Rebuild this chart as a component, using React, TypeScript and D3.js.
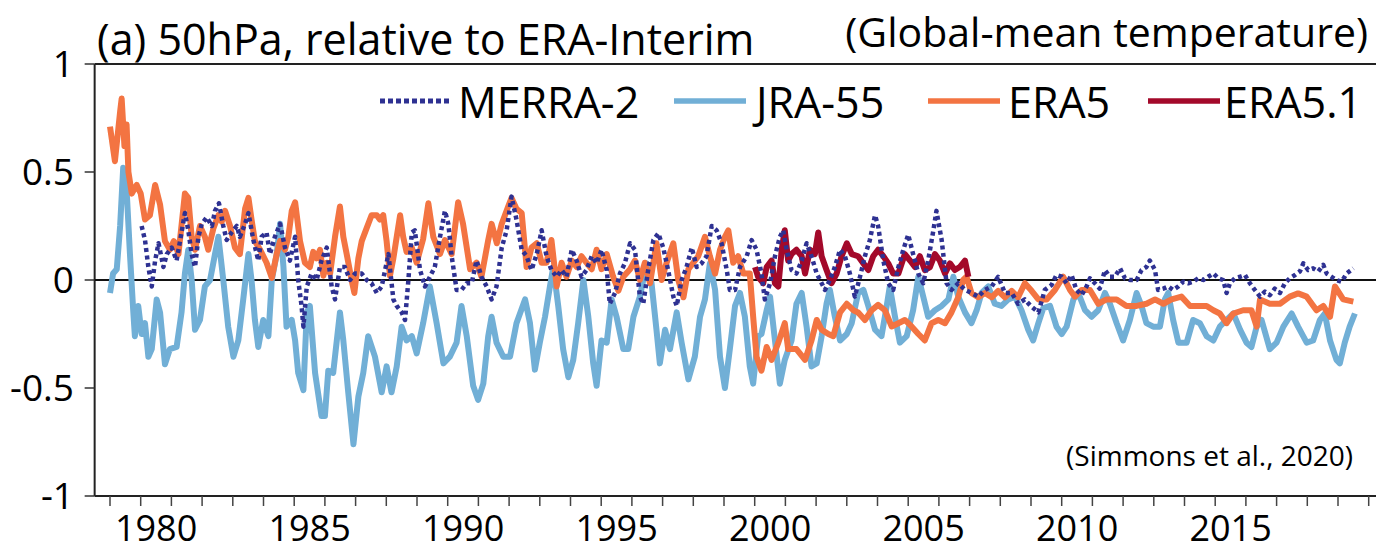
import React from 'react';
import * as d3 from 'd3';

type Pt = [number, number];

// values, [year, K]
const merra2: Pt[] = [
  [1980.03, 0.25], [1980.14, 0.185], [1980.25, 0.06], [1980.36, -0.03], [1980.47, 0.09], [1980.58, 0.17],
  [1980.74, 0.06], [1980.85, 0.12], [1981.01, 0.15], [1981.17, 0.09], [1981.33, 0.22], [1981.44, 0.31],
  [1981.55, 0.23], [1981.66, 0.12], [1981.77, 0.06], [1981.88, 0.2], [1981.99, 0.26], [1982.15, 0.29],
  [1982.32, 0.25], [1982.42, 0.32], [1982.55, 0.355], [1982.69, 0.25], [1982.8, 0.185], [1982.96, 0.22],
  [1983.13, 0.25], [1983.23, 0.2], [1983.4, 0.26], [1983.51, 0.31], [1983.67, 0.185], [1983.83, 0.09],
  [1983.94, 0.2], [1984.1, 0.22], [1984.21, 0.12], [1984.37, 0.2], [1984.54, 0.26], [1984.7, 0.15],
  [1984.86, 0.09], [1985.03, 0.2], [1985.13, 0.0], [1985.24, -0.12], [1985.3, -0.216], [1985.41, -0.03],
  [1985.57, 0.03], [1985.73, 0.0], [1985.89, 0.09], [1986.06, 0.15], [1986.22, -0.03], [1986.33, -0.09],
  [1986.49, 0.06], [1986.65, 0.06], [1986.82, 0.0], [1986.98, 0.03], [1987.2, 0.03], [1987.36, 0.0],
  [1987.52, -0.015], [1987.69, -0.06], [1987.85, -0.03], [1988.07, 0.12], [1988.23, -0.09], [1988.34, -0.12],
  [1988.5, -0.15], [1988.61, -0.185], [1988.72, 0.0], [1988.83, 0.22], [1988.93, 0.23], [1989.1, 0.046],
  [1989.26, -0.03], [1989.42, 0.015], [1989.58, 0.06], [1989.75, 0.2], [1989.91, 0.32], [1990.02, 0.26],
  [1990.13, 0.11], [1990.29, -0.046], [1990.45, -0.046], [1990.62, -0.015], [1990.78, -0.015], [1990.94, 0.09],
  [1991.1, 0.015], [1991.27, -0.03], [1991.43, -0.09], [1991.59, -0.03], [1991.76, 0.15], [1991.92, 0.23],
  [1992.08, 0.386], [1992.24, 0.28], [1992.41, 0.14], [1992.57, 0.11], [1992.73, 0.046], [1992.9, 0.12],
  [1993.06, 0.23], [1993.22, 0.11], [1993.38, 0.046], [1993.55, 0.015], [1993.71, 0.046], [1993.87, 0.015],
  [1994.04, 0.14], [1994.2, 0.09], [1994.36, 0.015], [1994.52, 0.046], [1994.69, 0.11], [1994.85, 0.077],
  [1995.01, 0.14], [1995.18, 0.046], [1995.28, -0.11], [1995.45, -0.06], [1995.61, 0.03], [1995.77, 0.077],
  [1995.94, 0.17], [1996.1, 0.14], [1996.26, -0.077], [1996.37, -0.11], [1996.53, 0.046], [1996.7, 0.185],
  [1996.86, 0.216], [1997.02, 0.15], [1997.18, 0.046], [1997.35, -0.077], [1997.46, -0.12], [1997.62, 0.0],
  [1997.78, 0.06], [1997.95, 0.15], [1998.11, 0.06], [1998.27, 0.077], [1998.43, 0.11], [1998.6, 0.25],
  [1998.76, 0.23], [1998.92, 0.17], [1999.09, 0.046], [1999.19, -0.046], [1999.36, -0.046], [1999.52, 0.06],
  [1999.74, 0.11], [1999.9, 0.185], [2000.06, 0.14], [2000.22, 0.03], [2000.33, -0.09], [2000.5, -0.015],
  [2000.66, 0.11], [2000.82, 0.2], [2000.93, 0.23], [2001.04, 0.14], [2001.2, 0.046], [2001.36, 0.03],
  [2001.53, 0.09], [2001.69, 0.17], [2001.85, 0.11], [2002.02, 0.03], [2002.18, -0.015], [2002.29, -0.046],
  [2002.45, 0.0], [2002.61, 0.06], [2002.78, 0.14], [2002.94, 0.11], [2003.1, 0.03], [2003.26, -0.077],
  [2003.43, 0.015], [2003.59, 0.11], [2003.75, 0.185], [2003.92, 0.3], [2004.02, 0.25], [2004.19, 0.09],
  [2004.35, -0.015], [2004.51, -0.046], [2004.68, 0.06], [2004.84, 0.14], [2005.0, 0.21], [2005.16, 0.12],
  [2005.33, 0.03], [2005.49, -0.015], [2005.65, 0.09], [2005.82, 0.23], [2005.92, 0.32], [2006.09, 0.185],
  [2006.25, -0.015], [2006.41, -0.046], [2006.63, -0.015], [2006.85, -0.046], [2007.06, -0.06], [2007.28, -0.077],
  [2007.5, -0.046], [2007.72, -0.03], [2007.93, 0.015], [2008.15, -0.06], [2008.37, -0.06], [2008.58, -0.11],
  [2008.8, -0.09], [2008.99, -0.12], [2009.24, -0.15], [2009.45, -0.046], [2009.67, -0.023], [2009.83, 0.023],
  [2010.0, 0.015], [2010.16, -0.015], [2010.32, 0.023], [2010.48, -0.046], [2010.65, -0.07], [2010.81, -0.03],
  [2010.92, 0.008], [2011.08, -0.015], [2011.24, -0.04], [2011.41, 0.046], [2011.57, 0.015], [2011.73, 0.015],
  [2011.9, 0.054], [2012.06, 0.008], [2012.22, 0.0], [2012.44, 0.0], [2012.6, 0.046], [2012.76, 0.06],
  [2012.87, 0.09], [2013.04, 0.046], [2013.14, -0.046], [2013.31, -0.04], [2013.47, -0.03], [2013.63, -0.046],
  [2013.8, -0.03], [2013.96, -0.008], [2014.12, -0.015], [2014.28, -0.008], [2014.45, 0.008], [2014.61, 0.0],
  [2014.77, 0.015], [2014.94, 0.03], [2015.1, 0.008], [2015.26, 0.0], [2015.37, -0.06], [2015.48, -0.015],
  [2015.64, 0.008], [2015.81, 0.015], [2015.97, 0.023], [2016.13, -0.015], [2016.29, -0.046], [2016.46, -0.077],
  [2016.62, -0.054], [2016.78, -0.07], [2016.94, -0.04], [2017.11, -0.06], [2017.27, -0.015], [2017.43, 0.008],
  [2017.6, 0.023], [2017.76, 0.04], [2017.87, 0.077], [2018.03, 0.046], [2018.19, 0.054], [2018.36, 0.04],
  [2018.52, 0.07], [2018.63, 0.03], [2018.79, 0.015], [2018.95, 0.0], [2019.12, -0.008], [2019.28, 0.03],
  [2019.5, 0.054],
];

const jra55: Pt[] = [
  [1979.0, -0.06], [1979.1, 0.03], [1979.22, 0.05], [1979.33, 0.25], [1979.43, 0.52], [1979.54, 0.42],
  [1979.65, 0.12], [1979.76, -0.15], [1979.81, -0.26], [1979.92, -0.12], [1980.03, -0.25], [1980.14, -0.2],
  [1980.25, -0.355], [1980.36, -0.32], [1980.52, -0.09], [1980.63, -0.15], [1980.79, -0.39], [1980.95, -0.32],
  [1981.17, -0.31], [1981.33, -0.15], [1981.44, 0.03], [1981.55, 0.14], [1981.66, 0.0], [1981.77, -0.23],
  [1981.93, -0.185], [1982.09, -0.03], [1982.26, 0.0], [1982.42, 0.12], [1982.53, 0.2], [1982.69, 0.0],
  [1982.85, -0.216], [1983.02, -0.355], [1983.18, -0.28], [1983.34, -0.09], [1983.51, 0.12], [1983.61, 0.0],
  [1983.72, -0.185], [1983.83, -0.31], [1983.99, -0.185], [1984.16, -0.26], [1984.27, 0.0], [1984.43, 0.12],
  [1984.54, 0.26], [1984.65, 0.06], [1984.75, -0.216], [1984.92, -0.185], [1985.03, -0.28], [1985.13, -0.43],
  [1985.3, -0.51], [1985.41, -0.15], [1985.51, -0.12], [1985.68, -0.43], [1985.89, -0.63], [1986.0, -0.63],
  [1986.11, -0.42], [1986.27, -0.43], [1986.49, -0.15], [1986.6, -0.28], [1986.76, -0.52], [1986.93, -0.76],
  [1987.09, -0.54], [1987.25, -0.43], [1987.41, -0.26], [1987.63, -0.355], [1987.85, -0.52], [1988.01, -0.4],
  [1988.17, -0.52], [1988.34, -0.4], [1988.5, -0.216], [1988.66, -0.28], [1988.83, -0.26], [1988.99, -0.34],
  [1989.2, -0.2], [1989.42, -0.03], [1989.64, -0.2], [1989.86, -0.386], [1990.07, -0.355], [1990.29, -0.29],
  [1990.45, -0.12], [1990.62, -0.26], [1990.83, -0.49], [1990.99, -0.555], [1991.16, -0.48], [1991.32, -0.26],
  [1991.43, -0.17], [1991.59, -0.29], [1991.81, -0.355], [1992.03, -0.355], [1992.24, -0.2], [1992.52, -0.09],
  [1992.68, -0.2], [1992.84, -0.415], [1993.0, -0.29], [1993.17, -0.17], [1993.33, -0.03], [1993.44, 0.06],
  [1993.6, -0.12], [1993.76, -0.32], [1993.93, -0.45], [1994.09, -0.37], [1994.25, -0.2], [1994.42, 0.0],
  [1994.58, -0.17], [1994.74, -0.386], [1994.85, -0.49], [1995.01, -0.28], [1995.18, -0.29], [1995.34, -0.09],
  [1995.5, -0.17], [1995.72, -0.32], [1995.88, -0.32], [1996.05, -0.17], [1996.26, -0.077], [1996.48, 0.077],
  [1996.64, -0.015], [1996.8, -0.23], [1996.91, -0.386], [1997.08, -0.23], [1997.24, -0.32], [1997.46, -0.15],
  [1997.62, -0.29], [1997.84, -0.46], [1998.05, -0.355], [1998.22, -0.17], [1998.38, -0.09], [1998.54, 0.077],
  [1998.71, -0.046], [1998.87, -0.355], [1999.03, -0.5], [1999.19, -0.32], [1999.36, -0.12], [1999.52, -0.06],
  [1999.68, -0.17], [1999.84, -0.4], [1999.95, -0.48], [2000.11, -0.26], [2000.22, -0.25], [2000.39, -0.14],
  [2000.5, -0.077], [2000.66, -0.28], [2000.82, -0.48], [2000.98, -0.37], [2001.2, -0.28], [2001.36, -0.11],
  [2001.53, -0.06], [2001.69, -0.216], [2001.85, -0.4], [2002.02, -0.386], [2002.18, -0.26], [2002.34, -0.11],
  [2002.45, -0.046], [2002.61, -0.17], [2002.78, -0.28], [2003.0, -0.25], [2003.16, -0.2], [2003.37, -0.06],
  [2003.54, -0.046], [2003.7, -0.12], [2003.92, -0.23], [2004.13, -0.26], [2004.3, -0.12], [2004.4, -0.03],
  [2004.57, -0.17], [2004.73, -0.29], [2004.95, -0.26], [2005.16, -0.14], [2005.33, 0.015], [2005.49, -0.077],
  [2005.65, -0.17], [2005.87, -0.14], [2006.09, -0.12], [2006.31, -0.09], [2006.47, 0.015], [2006.63, -0.077],
  [2006.85, -0.15], [2007.06, -0.2], [2007.23, -0.14], [2007.39, -0.06], [2007.61, -0.03], [2007.82, -0.11],
  [2008.04, -0.12], [2008.26, -0.09], [2008.48, -0.077], [2008.69, -0.14], [2008.91, -0.23], [2009.07, -0.28],
  [2009.24, -0.2], [2009.4, -0.13], [2009.62, -0.12], [2009.83, -0.216], [2010.0, -0.25], [2010.16, -0.216],
  [2010.38, -0.09], [2010.54, -0.06], [2010.76, -0.14], [2010.97, -0.17], [2011.19, -0.14], [2011.41, -0.06],
  [2011.57, -0.11], [2011.79, -0.2], [2012.0, -0.28], [2012.22, -0.185], [2012.44, -0.06], [2012.6, -0.12],
  [2012.76, -0.2], [2012.98, -0.216], [2013.2, -0.216], [2013.36, -0.09], [2013.47, -0.06], [2013.63, -0.185],
  [2013.8, -0.29], [2014.07, -0.29], [2014.28, -0.185], [2014.5, -0.2], [2014.72, -0.26], [2014.94, -0.28],
  [2015.15, -0.216], [2015.37, -0.185], [2015.59, -0.155], [2015.81, -0.23], [2016.02, -0.29], [2016.18, -0.31],
  [2016.35, -0.216], [2016.51, -0.185], [2016.78, -0.32], [2017.0, -0.29], [2017.22, -0.216], [2017.49, -0.155],
  [2017.7, -0.216], [2017.98, -0.29], [2018.19, -0.28], [2018.41, -0.185], [2018.57, -0.155], [2018.74, -0.28],
  [2018.95, -0.37], [2019.06, -0.386], [2019.22, -0.29], [2019.38, -0.216], [2019.55, -0.155],
];

const era5: Pt[] = [
  [1979.0, 0.71], [1979.16, 0.55], [1979.33, 0.78], [1979.38, 0.84], [1979.47, 0.62], [1979.54, 0.72],
  [1979.6, 0.5], [1979.71, 0.4], [1979.87, 0.44], [1980.0, 0.4], [1980.14, 0.28], [1980.3, 0.3],
  [1980.47, 0.44], [1980.63, 0.35], [1980.79, 0.18], [1980.95, 0.14], [1981.08, 0.18], [1981.23, 0.12],
  [1981.44, 0.4], [1981.55, 0.38], [1981.66, 0.2], [1981.77, 0.14], [1981.93, 0.25], [1982.09, 0.2],
  [1982.2, 0.14], [1982.37, 0.24], [1982.53, 0.3], [1982.64, 0.27], [1982.75, 0.32], [1982.91, 0.25],
  [1983.07, 0.15], [1983.23, 0.12], [1983.4, 0.33], [1983.51, 0.38], [1983.61, 0.28], [1983.72, 0.18],
  [1983.89, 0.14], [1984.1, 0.08], [1984.27, 0.01], [1984.43, 0.12], [1984.54, 0.18], [1984.7, 0.14],
  [1984.81, 0.2], [1984.92, 0.32], [1985.03, 0.36], [1985.19, 0.18], [1985.35, 0.08], [1985.51, 0.06],
  [1985.62, 0.13], [1985.73, 0.1], [1985.84, 0.14], [1985.95, 0.02], [1986.06, 0.08], [1986.17, 0.03],
  [1986.33, 0.2], [1986.49, 0.34], [1986.6, 0.2], [1986.71, 0.12], [1986.87, 0.0], [1986.96, -0.06],
  [1987.09, 0.1], [1987.2, 0.18], [1987.36, 0.24], [1987.52, 0.3], [1987.69, 0.3], [1987.79, 0.28],
  [1987.9, 0.3], [1988.01, 0.18], [1988.12, 0.02], [1988.23, 0.1], [1988.34, 0.2], [1988.45, 0.3],
  [1988.55, 0.2], [1988.66, 0.13], [1988.83, 0.15], [1988.99, 0.08], [1989.2, 0.19], [1989.37, 0.355],
  [1989.53, 0.2], [1989.75, 0.12], [1989.91, 0.185], [1990.13, 0.12], [1990.34, 0.36], [1990.5, 0.26],
  [1990.73, 0.05], [1990.94, 0.08], [1991.1, 0.015], [1991.32, 0.185], [1991.43, 0.26], [1991.6, 0.17],
  [1991.76, 0.26], [1991.97, 0.34], [1992.08, 0.38], [1992.24, 0.33], [1992.41, 0.31], [1992.57, 0.06],
  [1992.73, 0.15], [1992.9, 0.17], [1993.06, 0.08], [1993.22, 0.08], [1993.38, 0.185], [1993.55, -0.03],
  [1993.71, 0.08], [1993.87, 0.015], [1994.04, 0.09], [1994.2, 0.06], [1994.36, 0.11], [1994.52, 0.08],
  [1994.69, 0.05], [1994.85, 0.14], [1995.01, 0.05], [1995.18, 0.12], [1995.39, 0.015], [1995.56, -0.05],
  [1995.72, 0.015], [1995.94, 0.05], [1996.1, 0.09], [1996.26, 0.0], [1996.42, 0.08], [1996.59, -0.015],
  [1996.8, 0.17], [1996.97, 0.0], [1997.13, 0.08], [1997.35, 0.17], [1997.51, 0.0], [1997.68, -0.08],
  [1997.84, 0.05], [1998.0, 0.08], [1998.16, 0.11], [1998.38, 0.2], [1998.54, 0.11], [1998.71, 0.03],
  [1998.87, 0.14], [1999.03, 0.2], [1999.14, 0.23], [1999.3, 0.08], [1999.46, 0.11], [1999.63, 0.03],
  [1999.84, 0.03], [1999.95, -0.17], [2000.06, -0.355], [2000.22, -0.42], [2000.39, -0.31], [2000.55, -0.37],
  [2000.77, -0.29], [2000.98, -0.2], [2001.09, -0.32], [2001.36, -0.32], [2001.64, -0.37], [2001.85, -0.28],
  [2002.02, -0.185], [2002.18, -0.23], [2002.4, -0.25], [2002.56, -0.26], [2002.78, -0.15], [2003.0, -0.11],
  [2003.21, -0.14], [2003.37, -0.15], [2003.59, -0.185], [2003.81, -0.14], [2004.02, -0.115], [2004.24, -0.14],
  [2004.46, -0.215], [2004.68, -0.2], [2004.89, -0.185], [2005.11, -0.215], [2005.33, -0.25], [2005.54, -0.28],
  [2005.76, -0.2], [2005.98, -0.185], [2006.2, -0.2], [2006.41, -0.15], [2006.63, -0.08], [2006.79, 0.0],
  [2006.9, 0.015], [2007.06, -0.06], [2007.28, -0.08], [2007.5, -0.06], [2007.72, -0.08], [2007.93, -0.05],
  [2008.15, -0.08], [2008.37, -0.05], [2008.58, -0.08], [2008.8, -0.015], [2009.02, -0.05], [2009.24, -0.09],
  [2009.51, -0.09], [2009.78, -0.046], [2010.05, 0.015], [2010.27, -0.046], [2010.43, -0.077], [2010.65, -0.046],
  [2010.92, -0.046], [2011.19, -0.11], [2011.46, -0.09], [2011.79, -0.09], [2012.11, -0.12], [2012.44, -0.12],
  [2012.76, -0.11], [2013.04, -0.09], [2013.31, -0.11], [2013.58, -0.09], [2013.9, -0.077], [2014.18, -0.12],
  [2014.5, -0.12], [2014.72, -0.12], [2014.94, -0.14], [2015.15, -0.155], [2015.37, -0.2], [2015.59, -0.155],
  [2015.91, -0.14], [2016.18, -0.14], [2016.35, -0.216], [2016.46, -0.09], [2016.78, -0.11], [2017.11, -0.11],
  [2017.43, -0.077], [2017.7, -0.062], [2017.98, -0.077], [2018.3, -0.14], [2018.52, -0.12], [2018.74, -0.17],
  [2018.9, -0.03], [2019.17, -0.09], [2019.5, -0.1],
];

const era51: Pt[] = [
  [2000.01, 0.06], [2000.11, 0.015], [2000.28, -0.015], [2000.39, 0.06], [2000.55, 0.09], [2000.66, -0.015],
  [2000.77, -0.03], [2000.88, 0.14], [2000.98, 0.23], [2001.09, 0.09], [2001.2, 0.12], [2001.36, 0.14],
  [2001.53, 0.11], [2001.64, 0.03], [2001.8, 0.14], [2001.96, 0.12], [2002.07, 0.22], [2002.18, 0.11],
  [2002.34, 0.046], [2002.5, -0.015], [2002.67, 0.03], [2002.83, 0.11], [2003.0, 0.17], [2003.16, 0.12],
  [2003.37, 0.11], [2003.54, 0.077], [2003.7, 0.046], [2003.86, 0.11], [2004.02, 0.14], [2004.19, 0.11],
  [2004.35, 0.077], [2004.51, 0.03], [2004.68, 0.03], [2004.89, 0.12], [2005.06, 0.09], [2005.22, 0.06],
  [2005.38, 0.11], [2005.54, 0.046], [2005.71, 0.06], [2005.87, 0.12], [2006.03, 0.09], [2006.2, 0.03],
  [2006.36, 0.077], [2006.52, 0.046], [2006.68, 0.06], [2006.85, 0.09], [2006.96, 0.015],
];

const yTicks = [1, 0.5, 0, -0.5, -1];
const yTickLabels = ['1', '0.5', '0', '-0.5', '-1'];
const yearLabels = ['1980', '1985', '1990', '1995', '2000', '2005', '2010', '2015'];

const series = [
  { name: 'JRA-55', data: jra55, color: '#71AFD6', dash: '' },
  { name: 'ERA5', data: era5, color: '#F37442', dash: '' },
  { name: 'ERA5.1', data: era51, color: '#A3092A', dash: '' },
  { name: 'MERRA-2', data: merra2, color: '#2E3192', dash: '4 3.5' },
];

const font = "'Open Sans', 'Noto Sans', sans-serif";

export default function App() {
  const width = 1376;
  const height = 552;

  const x = d3.scaleLinear().domain([1979, 2020]).range([110, 1368.7]);
  const y = d3.scaleLinear().domain([-1, 1]).range([496, 64]);
  const line = d3.line<Pt>().x(d => x(d[0])).y(d => y(d[1]));

  const x0 = x(1978.5);
  const yearTicks = d3.range(1979, 2021);

  const legend = [
    { name: 'MERRA-2', color: '#2E3192', dash: '5 3', lx: 380, tx: 458 },
    { name: 'JRA-55', color: '#71AFD6', dash: '', lx: 674, tx: 756 },
    { name: 'ERA5', color: '#F37442', dash: '', lx: 928, tx: 1008 },
    { name: 'ERA5.1', color: '#A3092A', dash: '', lx: 1148, tx: 1224 },
  ];

  return (
    <svg width={width} height={height} style={{ position: 'absolute', left: 0, top: 0, background: '#fff' }} fontFamily={font}>
      <rect width={width} height={height} fill="#fff" />

      {/* frame */}
      <line x1={x0} x2={width} y1={y(1)} y2={y(1)} stroke="#222" strokeWidth={2} />
      <line x1={x0} x2={width} y1={y(-1)} y2={y(-1)} stroke="#222" strokeWidth={2} />
      <line x1={x0} x2={x0} y1={y(1)} y2={y(-1)} stroke="#222" strokeWidth={2} />
      <line x1={x0} x2={width} y1={y(0)} y2={y(0)} stroke="#111" strokeWidth={2} />

      {/* y axis */}
      {yTicks.map((t, i) => (
        <g key={t}>
          <line x1={x0 - 10} x2={x0} y1={y(t)} y2={y(t)} stroke="#333" strokeWidth={1.5} />
          <text x={74} y={y(t)} dy="0.36em" textAnchor="end" fontSize={37} fill="#000">{yTickLabels[i]}</text>
        </g>
      ))}

      {/* x axis */}
      {yearTicks.map(t => (
        <line key={t} x1={x(t)} x2={x(t)} y1={y(-1)} y2={y(-1) + 10} stroke="#444" strokeWidth={1.5} />
      ))}
      {yearLabels.map(l => (
        <text key={l} x={x(+l + 0.5)} y={541} textAnchor="middle" fontSize={36} fill="#000">{l}</text>
      ))}

      {/* series */}
      {series.map(s => (
        <path key={s.name} d={line(s.data) || ''} fill="none" stroke={s.color}
          strokeWidth={s.dash ? 4.5 : 6} strokeDasharray={s.dash || undefined} strokeLinejoin="round" />
      ))}

      {/* legend */}
      {legend.map(l => (
        <g key={l.name}>
          <line x1={l.lx} x2={l.lx + 72} y1={101} y2={101} stroke={l.color} strokeWidth={l.dash ? 5 : 5.5} strokeDasharray={l.dash || undefined} />
          <text x={l.tx} y={118} fontSize={43} fill="#000">{l.name}</text>
        </g>
      ))}

      {/* titles */}
      <text x={97} y={55} fontSize={43} fill="#000">(a) 50hPa, relative to ERA-Interim</text>
      <text x={1368} y={47} textAnchor="end" fontSize={41} fill="#000">(Global-mean temperature)</text>
      <text x={1353} y={466} textAnchor="end" fontSize={28} fill="#000">(Simmons et al., 2020)</text>
    </svg>
  );
}
